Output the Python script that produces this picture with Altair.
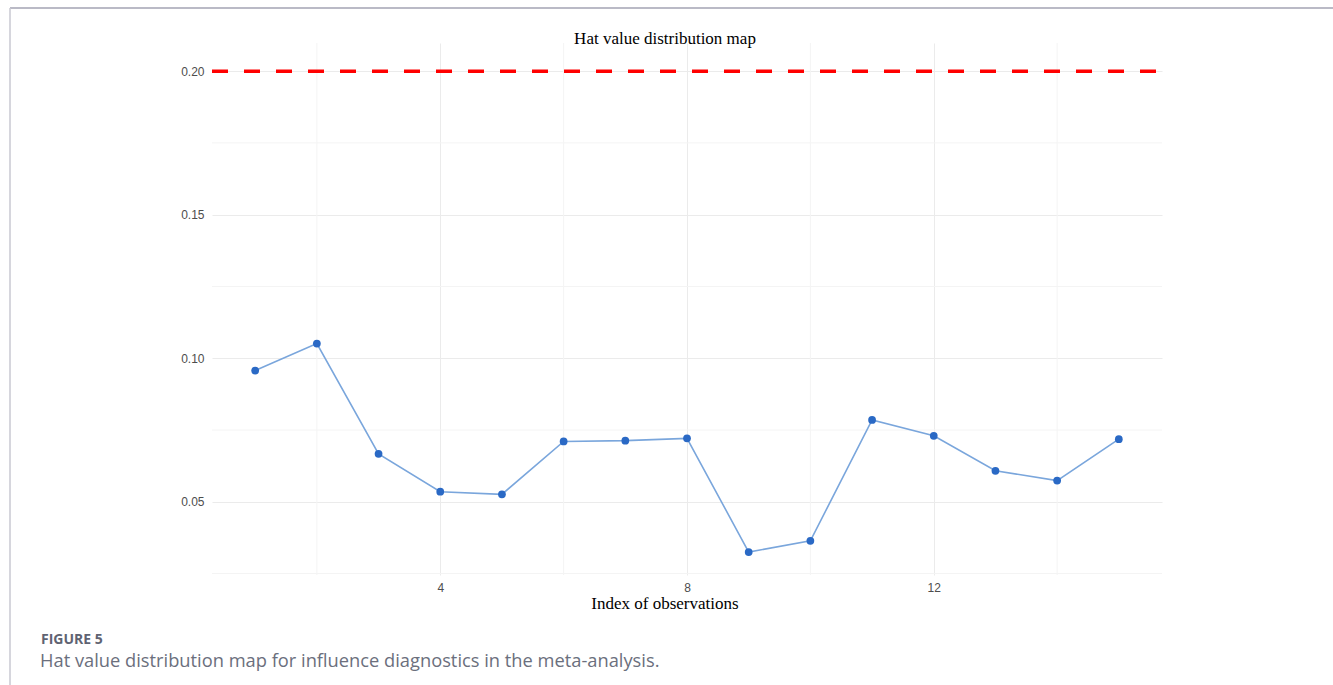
import altair as alt
import pandas as pd

# ---- data ----
obs_index = list(range(1, 16))
hat_values = [0.0957, 0.1051, 0.0667, 0.0535, 0.0526, 0.0710, 0.0713, 0.0721,
              0.0325, 0.0364, 0.0785, 0.0730, 0.0608, 0.0574, 0.0718]
threshold = [0.20]
y_major = [0.05, 0.10, 0.15, 0.20]
y_minor = [0.025, 0.075, 0.125, 0.175]
x_major = [4, 8, 12]
x_minor = [2, 6, 10, 14]

chart_title = "Hat value distribution map"
x_title = "Index of observations"
fig_label = "FIGURE 5"
fig_caption = "Hat value distribution map for influence diagnostics in the meta-analysis."

W, H = 950, 532
PAD_L, PAD_T = 212, 43

xscale = alt.Scale(domain=[0.3, 15.7], nice=False, zero=False)
yscale = alt.Scale(domain=[0.0245, 0.2098], nice=False, zero=False)

xaxis = alt.Axis(values=x_major, title=None, ticks=False, domain=False,
                 labelFont="Liberation Sans", labelFontSize=12,
                 labelColor="#4d4d4d", labelPadding=7,
                 gridColor="#ebebeb", gridWidth=1)
yaxis = alt.Axis(values=y_major, format=".2f", title=None, ticks=False,
                 domain=False, labelFont="Liberation Sans",
                 labelFontSize=12, labelColor="#4d4d4d", labelPadding=8,
                 gridColor="#ebebeb", gridWidth=1)

df = pd.DataFrame({"idx": obs_index, "hat": hat_values})

minor_y = alt.Chart(pd.DataFrame({"my": y_minor})).mark_rule(
    color="#f4f4f4", strokeWidth=1
).encode(y=alt.Y("my:Q", scale=yscale, axis=yaxis))

minor_x = alt.Chart(pd.DataFrame({"mx": x_minor})).mark_rule(
    color="#f4f4f4", strokeWidth=1
).encode(x=alt.X("mx:Q", scale=xscale, axis=xaxis))

base = alt.Chart(df)
line = base.mark_line(color="#7aa6dc", strokeWidth=1.6).encode(
    x=alt.X("idx:Q", scale=xscale, axis=xaxis),
    y=alt.Y("hat:Q", scale=yscale, axis=yaxis),
)
points = base.mark_point(filled=True, color="#2a69c5", size=60, opacity=1).encode(
    x=alt.X("idx:Q", scale=xscale, axis=xaxis),
    y=alt.Y("hat:Q", scale=yscale, axis=yaxis),
)

hline = alt.Chart(pd.DataFrame({"th": threshold})).mark_rule(
    color="#ff0000", strokeDash=[16, 16], strokeWidth=3.5, strokeCap="butt"
).encode(y=alt.Y("th:Q", scale=yscale, axis=yaxis),
         x=alt.value(0), x2=alt.value(W))

def text_mark(txt, x, y, **kw):
    return alt.Chart(pd.DataFrame({"t": [txt]})).mark_text(**kw).encode(
        text="t:N", x=alt.value(x), y=alt.value(y)
    )

title_t = text_mark(chart_title, 665 - PAD_L, 44 - PAD_T, font="Liberation Serif",
                    fontSize=17, color="#000000", align="center", baseline="alphabetic")
xtitle_t = text_mark(x_title, 665 - PAD_L, 609 - PAD_T, font="Liberation Serif",
                     fontSize=17, color="#000000", align="center", baseline="alphabetic")
fig_t = text_mark(fig_label, 41 - PAD_L, 644 - PAD_T, font="Open Sans", fontSize=14,
                  fontWeight="bold", color="#5f6372", align="left", baseline="alphabetic")
cap_t = text_mark(fig_caption, 40 - PAD_L, 667 - PAD_T, font="Open Sans", fontSize=18.3,
                  color="#6b6f7d", align="left", baseline="alphabetic")

frame_top = alt.Chart(pd.DataFrame({"a": [0]})).mark_rule(
    color="#a3a3b3", strokeWidth=1.5
).encode(x=alt.value(10 - PAD_L), x2=alt.value(1333 - PAD_L), y=alt.value(8 - PAD_T))
frame_left = alt.Chart(pd.DataFrame({"a": [0]})).mark_rule(
    color="#c8c8d2", strokeWidth=1.5
).encode(x=alt.value(10 - PAD_L), y=alt.value(8 - PAD_T), y2=alt.value(685 - PAD_T))

chart = alt.layer(
    minor_y, minor_x, line, points, hline, title_t, xtitle_t, fig_t, cap_t,
    frame_top, frame_left
).properties(
    width=W, height=H,
    padding={"left": PAD_L, "top": PAD_T, "right": 1333 - PAD_L - W,
             "bottom": 685 - PAD_T - H},
    autosize=alt.AutoSizeParams(type="none"),
    background="white",
).configure_view(stroke=None)

chart.save("out.html", embed_options={"renderer": "svg", "actions": False})
